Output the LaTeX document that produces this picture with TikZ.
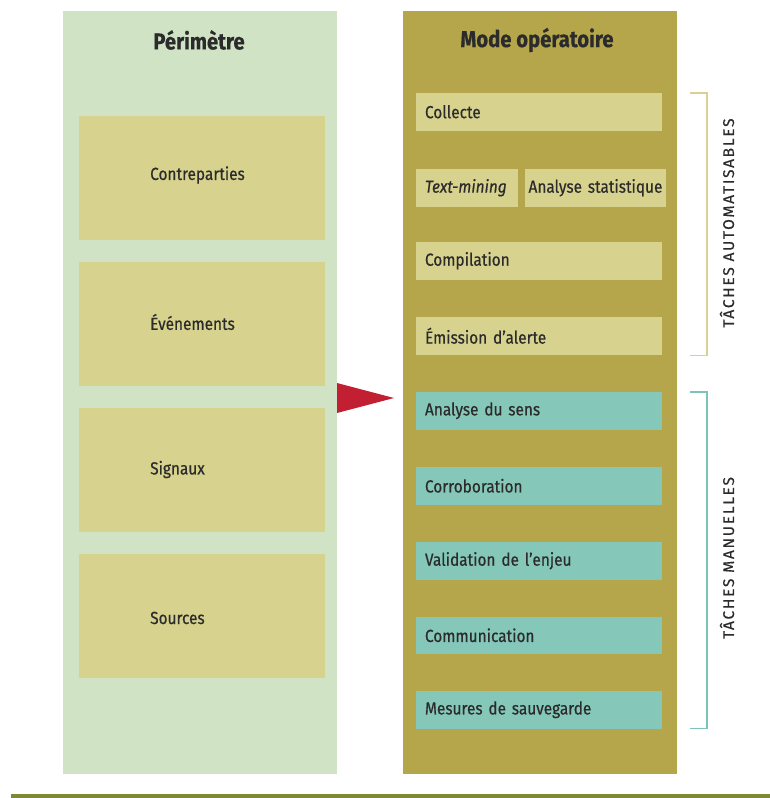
\documentclass[tikz,border=0pt]{standalone}
\usepackage{fontspec}
\setmainfont{Fira Sans}[FakeStretch=0.88,FakeBold=0.5]
\newfontfamily\labfont{Fira Sans}[LetterSpace=11,FakeBold=0.4]
\definecolor{leftbg}{HTML}{D0E3C5}
\definecolor{rightbg}{HTML}{B5A64B}
\definecolor{khakibox}{HTML}{D7D28E}
\definecolor{tealbox}{HTML}{85C7B9}
\definecolor{arrowred}{HTML}{C21F32}
\definecolor{rule}{HTML}{7E8A2E}
\definecolor{brkkhaki}{HTML}{D9D193}
\definecolor{brkteal}{HTML}{7CC4B8}
\definecolor{txt}{HTML}{2B2B2B}
\begin{document}
\begin{tikzpicture}[x=1pt,y=-1pt,
  column/.style={draw=none,inner sep=0pt,outer sep=0pt,minimum width=274pt,minimum height=763pt,anchor=north west},
  coltitle/.style={font=\bfseries\fontsize{23}{26}\selectfont,text=txt,anchor=center},
  perimbox/.style={fill=khakibox,inner sep=0pt,outer sep=0pt,minimum height=124pt,minimum width=246pt,anchor=north west},
  perimtext/.style={inner sep=0pt,anchor=west,font=\fontsize{17.5}{20}\selectfont,text=txt},
  taskbox/.style={inner ysep=0pt,inner xsep=9pt,outer sep=0pt,minimum height=37.5pt,text width=228pt,align=left,anchor=north west,font=\fontsize{17.5}{20}\selectfont,text=txt},
  autobox/.style={taskbox,fill=khakibox},
  manbox/.style={taskbox,fill=tealbox},
  brklabel/.style={rotate=90,font=\labfont\fontsize{15.5}{18}\selectfont,text=txt},
]
\useasboundingbox (0,0) rectangle (770,798);
% columns
\node[column,fill=leftbg] (perim) at (63,11) {};
\node[column,fill=rightbg] (mode) at (403,11) {};
\node[coltitle] (perimtitle) at (199,40) {Périmètre};
\node[coltitle] (modetitle) at (537,40) {Mode opératoire};
% perimeter boxes
\node[perimbox] (contre) at (79,116) {};
\node[perimbox] (even) at (79,262) {};
\node[perimbox] (sign) at (79,407.5) {};
\node[perimbox] (src) at (79,553.5) {};
\node[perimtext] (contret) at ([xshift=71pt,yshift=3pt]contre.west) {Contreparties};
\node[perimtext] (event) at ([xshift=71pt,yshift=2pt]even.west) {Événements};
\node[perimtext] (signt) at ([xshift=71pt]sign.west) {Signaux};
\node[perimtext] (srct) at ([xshift=71pt,yshift=-2.5pt]src.west) {Sources};
% automated tasks
\node[autobox] (collecte) at (416,93) {Collecte};
\node[autobox,text width=84pt,minimum width=102pt] (textmining) at (416,169) {\itshape Text-mining};
\node[autobox,inner xsep=0pt,text width=141pt,align=center,minimum width=141pt] (stat) at (525,169) {Analyse statistique};
\node[autobox] (compil) at (416,242) {Compilation};
\node[autobox] (alerte) at (416,317) {Émission d’alerte};
% manual tasks
\node[manbox] (sens) at (416,392) {Analyse du sens};
\node[manbox] (corro) at (416,467) {Corroboration};
\node[manbox] (valid) at (416,542) {Validation de l’enjeu};
\node[manbox] (comm) at (416,616.5) {Communication};
\node[manbox] (mesures) at (416,691) {Mesures de sauvegarde};
% arrow
\coordinate (a1) at (perim.east |- 0,383);
\coordinate (a2) at (perim.east |- 0,413);
\coordinate (atip) at (394,398);
\fill[arrowred] (a1) -- (atip) -- (a2) -- cycle;
% brackets
\coordinate (b1) at (690,93);
\coordinate (b2) at (707,93);
\coordinate (b3) at (707,355.5);
\coordinate (b4) at (690,355.5);
\draw[brkkhaki,line width=1.6pt] (b1) -- (b2) -- (b3) -- (b4);
\coordinate (c1) at (690,392);
\coordinate (c2) at (707,392);
\coordinate (c3) at (707,728.5);
\coordinate (c4) at (690,728.5);
\draw[brkteal,line width=1.6pt] (c1) -- (c2) -- (c3) -- (c4);
\node[brklabel] (autolab) at (727,223) {TÂCHES AUTOMATISABLES};
\node[brklabel] (manlab) at (727,558) {TÂCHES MANUELLES};
% bottom rule
\coordinate (r1) at (11,796);
\coordinate (r2) at (770,796);
\draw[rule,line width=4pt] (r1) -- (r2);
\end{tikzpicture}
\end{document}
